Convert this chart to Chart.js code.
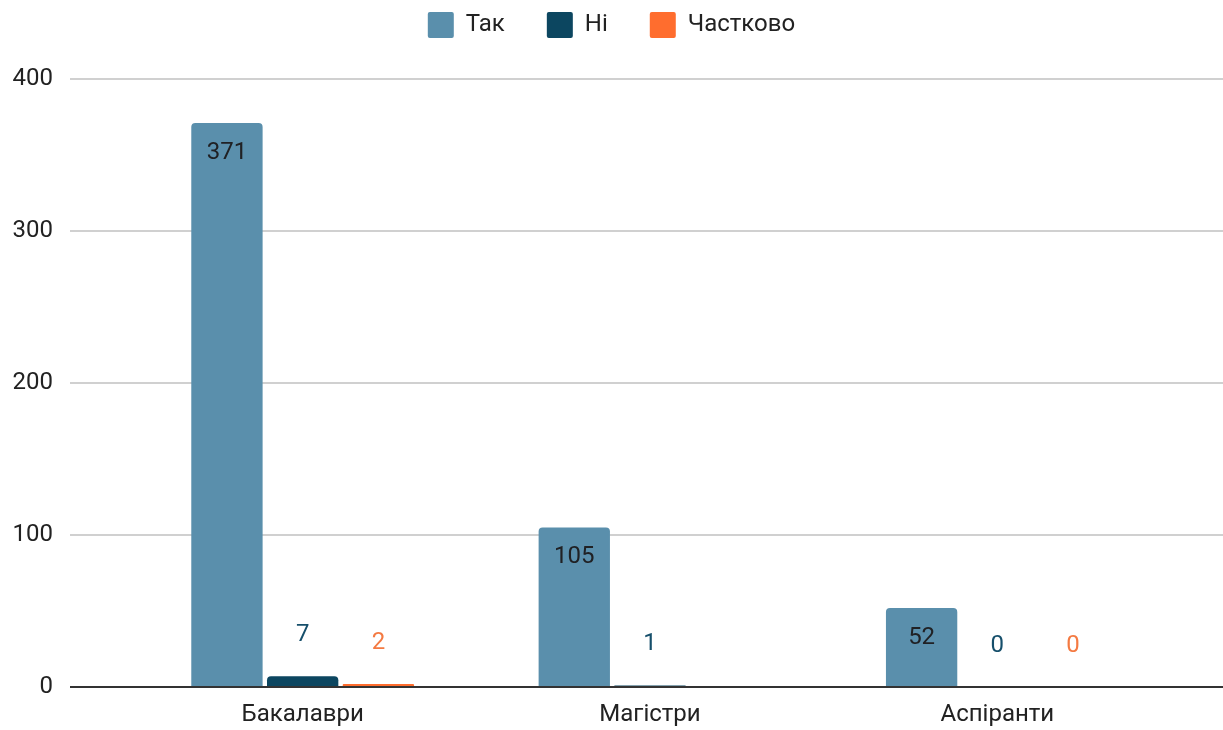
<!DOCTYPE html>
<html>
<head>
<meta charset="utf-8">
<script src="https://cdn.jsdelivr.net/npm/chart.js@4/dist/chart.umd.min.js"></script>
<style>
  html, body { margin: 0; padding: 0; background: #fff; }
  #wrap { width: 1223px; height: 730px; position: relative; }
</style>
</head>
<body>
<div id="wrap"><canvas id="chart"></canvas></div>
<script>
// --- дані ---
const categories = ['Бакалаври', 'Магістри', 'Аспіранти'];
const seriesNames = ['Так', 'Ні', 'Частково'];
const valuesYes = [371, 105, 52];
const valuesNo = [7, 1, 0];
const valuesPartly = [2, null, 0];
const yTicks = [0, 100, 200, 300, 400];

const barColors = ['#5a8fac', '#0c4660', '#ff6d2e'];
const labelColors = ['#202124', '#164f6b', '#f47a42'];

const FONT = 'Roboto';
Chart.defaults.font.family = FONT;
Chart.defaults.font.size = 24;
Chart.defaults.color = '#222';

const gridColor = (c) => (c.tick && c.tick.value === 0 ? '#333' : '#d0d0d0');

// підписи значень над / всередині стовпців
const valueLabels = {
  id: 'valueLabels',
  beforeLayout(chart) {
    // додатковий відступ між легендою та областю графіка
    const lg = chart.legend;
    if (lg && !lg._extraSpace) {
      const fit = lg.fit;
      lg.fit = function () { fit.call(this); this.height += 31; };
      lg._extraSpace = true;
    }
  },
  afterDatasetsDraw(chart) {
    const ctx = chart.ctx;
    ctx.save();
    ctx.font = '24px ' + FONT;
    ctx.textAlign = 'center';
    ctx.textBaseline = 'middle';
    chart.data.datasets.forEach((ds, i) => {
      const meta = chart.getDatasetMeta(i);
      meta.data.forEach((bar, j) => {
        const v = ds.data[j];
        if (v === null || v === undefined) return;
        ctx.fillStyle = labelColors[i];
        const y = i === 0 ? bar.y + 30 : bar.y - 41;
        ctx.fillText(String(v), bar.x, y);
      });
    });
    ctx.restore();
  }
};

const allSeries = [valuesYes, valuesNo, valuesPartly];

new Chart(document.getElementById('chart'), {
  type: 'bar',
  data: {
    labels: categories,
    datasets: seriesNames.map((name, i) => ({
      label: name,
      data: allSeries[i],
      backgroundColor: barColors[i],
      borderWidth: 0,
      borderRadius: 4,
      categoryPercentage: 0.654,
      barPercentage: 0.942
    }))
  },
  options: {
    responsive: true,
    maintainAspectRatio: false,
    animation: false,
    layout: { padding: { top: -30 } },
    plugins: {
      legend: {
        position: 'top',
        labels: {
          boxWidth: 26,
          boxHeight: 26,
          padding: 42,
          useBorderRadius: true,
          borderRadius: 2,
          color: '#222',
          font: { size: 24 }
        }
      },
      tooltip: { enabled: false }
    },
    scales: {
      x: {
        grid: { display: false, drawTicks: false },
        border: { display: false },
        ticks: { padding: 14, color: '#222', font: { size: 24 } },
        afterFit: (s) => { s.height = 43; }
      },
      y: {
        position: 'left',
        min: yTicks[0],
        max: yTicks[yTicks.length - 1],
        afterBuildTicks: (s) => { s.ticks = yTicks.map(v => ({ value: v })); },
        border: { display: false },
        grid: {
          color: gridColor,
          lineWidth: 2,
          tickColor: gridColor,
          tickWidth: 2,
          tickLength: 59
        },
        ticks: { padding: 17, color: '#222', font: { size: 24 } },
        afterFit: (s) => { s.width = 129; }
      },
      y2: {
        position: 'right',
        min: yTicks[0],
        max: yTicks[yTicks.length - 1],
        afterBuildTicks: (s) => { s.ticks = yTicks.map(v => ({ value: v })); },
        border: { display: false },
        grid: {
          drawOnChartArea: false,
          color: gridColor,
          lineWidth: 2,
          tickColor: gridColor,
          tickWidth: 2,
          tickLength: 52
        },
        ticks: { display: false },
        afterFit: (s) => { s.width = 52; }
      }
    }
  },
  plugins: [valueLabels]
});
</script>
</body>
</html>
